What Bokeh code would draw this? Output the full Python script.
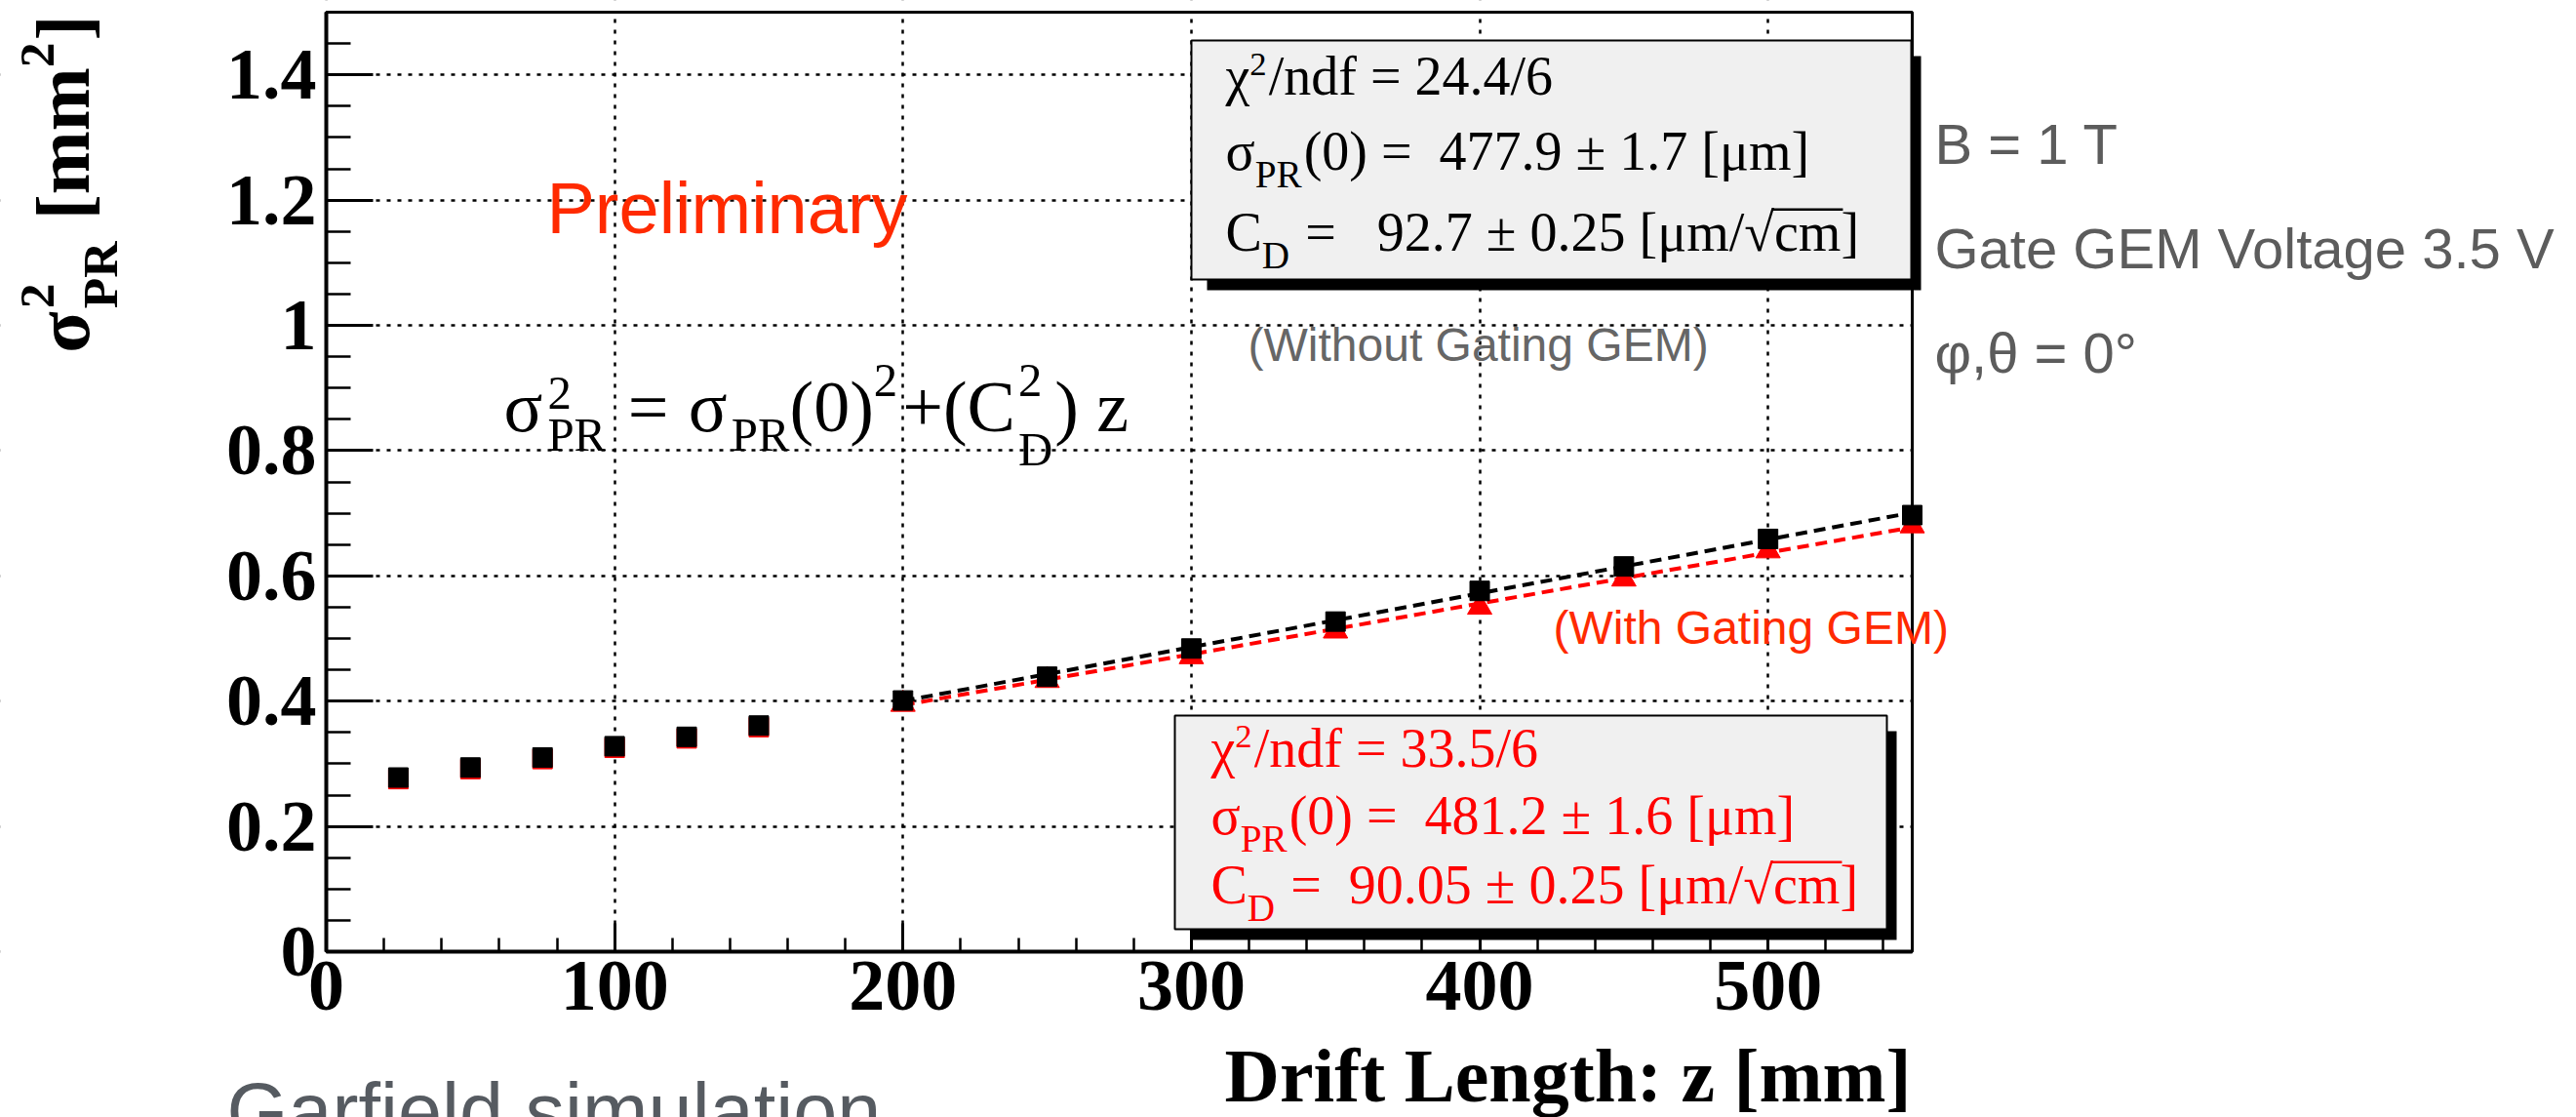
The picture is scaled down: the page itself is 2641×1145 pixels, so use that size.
import glob
import math

from bokeh.embed import file_html
from bokeh.models import (BoxAnnotation, ColumnDataSource, CustomJSTickFormatter,
                          FixedTicker, Label, Range1d)
from bokeh.plotting import figure
from bokeh.resources import INLINE

# ---------------------------------------------------------------- data
drift_mm = [25, 50, 75, 100, 125, 150, 200, 250, 300, 350, 400, 450, 500, 550]
sigma2_without_gate = [0.278, 0.294, 0.310, 0.328, 0.343, 0.361, 0.401,
                       0.439, 0.484, 0.527, 0.576, 0.615, 0.659, 0.697]
sigma2_with_gate = [0.2755, 0.2915, 0.3075, 0.3255, 0.3405, 0.3585, 0.395,
                    0.433, 0.471, 0.512, 0.550, 0.595, 0.640, 0.680]

x_ticks = [0, 100, 200, 300, 400, 500]
y_ticks = [0, 0.2, 0.4, 0.6, 0.8, 1.0, 1.2, 1.4]
x_minor_ticks = [20 * i for i in range(28)]
y_minor_ticks = [0.05 * i for i in range(31)]
x_limits = (0, 550)
y_limits = (0, 1.5)

# straight-line fits sigma^2 = sigma0^2 + C_D^2 z over this drift range
fit_range = (200, 550)
fit_without = {"chi2": 24.4, "ndf": 6, "sigma0": 477.9, "sigma0_err": 1.7, "cd": 92.7, "cd_err": 0.25}
fit_with = {"chi2": 33.5, "ndf": 6, "sigma0": 481.2, "sigma0_err": 1.6, "cd": 90.05, "cd_err": 0.25}

conditions = ["B = 1 T", "Gate GEM Voltage 3.5 V", "φ,θ = 0°"]

# ---------------------------------------------------------------- canvas geometry
W, H = 2641, 1145
FL, FR, FT, FB = 334, 1960, 12, 975   # axes box edges in canvas pixels

RED = "#ff0000"
ORANGE_RED = "#ff2a00"
GREY = "#5c5c5c"
SERIF = "Liberation Serif"
SANS = "Liberation Sans"
BASE_FIX = 0.36   # raise labels so their alphabetic baseline lands on the target

# the drawing area spans the whole canvas; the axes box sits inside it
_xs = (x_limits[1] - x_limits[0]) / (FR - FL)
_ys = (y_limits[1] - y_limits[0]) / (FB - FT)
x_view = (x_limits[0] - FL * _xs, x_limits[1] + (W - FR) * _xs)
y_view = (y_limits[0] - (H - FB) * _ys, y_limits[1] + FT * _ys)

p = figure(width=W, height=H, output_backend="svg", toolbar_location=None,
           x_range=Range1d(*x_view), y_range=Range1d(*y_view),
           min_border=0, min_border_left=0, min_border_right=0,
           min_border_top=0, min_border_bottom=0)
p.background_fill_color = "white"
p.border_fill_color = "white"
p.outline_line_color = None


def to_data(px, py):
    return x_view[0] + px * _xs, y_view[1] - py * _ys


# ---------------------------------------------------------------- text measuring
_fonts = {}


def _font(bold):
    if bold not in _fonts:
        name = "LiberationSerif-Bold.ttf" if bold else "LiberationSerif-Regular.ttf"
        hits = glob.glob(f"/usr/share/fonts/**/{name}", recursive=True)
        hits += glob.glob(f"/usr/local/share/fonts/**/{name}", recursive=True)
        font = None
        if hits:
            try:
                from PIL import ImageFont
                font = ImageFont.truetype(hits[0], 100)
            except Exception:
                font = None
        _fonts[bold] = font
    return _fonts[bold]


def text_width(text, size, bold=False):
    font = _font(bold)
    if font is None:
        return 0.5 * size * len(text)
    return font.getlength(text) * size / 100.0


def nb(s):
    return s.replace(" ", "\u00a0")


# a piece: (text, size scale, rise in em, stacked on the next piece, extra advance px)
def N(t, after=0.0):
    return (nb(t), 1.0, 0.0, False, after)


def SUP(t, rise=0.4, scale=0.66, stacked=False, after=0.0):
    return (nb(t), scale, rise, stacked, after)


def SUB(t, rise=-0.3, scale=0.66, stacked=False, after=0.0):
    return (nb(t), scale, rise, stacked, after)


def layout(pieces, size, bold=False):
    out, adv, stack_w = [], 0.0, 0.0
    for text, scale, rise, stacked, after in pieces:
        fs = size * scale
        w = text_width(text, fs, bold)
        out.append((text, fs, adv, rise * size, w))
        if stacked:
            stack_w = max(stack_w, w)
        else:
            adv += max(stack_w, w) + after
            stack_w = 0.0
    return out, adv


def rich(pieces, px, py, size, color, bold=False, angle=0.0, font=SERIF):
    items, total = layout(pieces, size, bold)
    ca, sa = math.cos(angle), math.sin(angle)
    for text, fs, adv, rise, _ in items:
        up = rise + BASE_FIX * fs
        gx = px + adv * ca - up * sa
        gy = py - adv * sa - up * ca
        x, y = to_data(gx, gy)
        p.add_layout(Label(x=x, y=y, text=text, angle=angle, text_font=font,
                           text_font_size=f"{fs:.1f}px",
                           text_font_style="bold" if bold else "normal",
                           text_color=color, text_align="left",
                           text_baseline="alphabetic"))
    return items, total


def plain(text, px, py, size, color, font=SANS, bold=False, align="left"):
    x, y = to_data(px, py - BASE_FIX * size)
    p.add_layout(Label(x=x, y=y, text=text, text_font=font,
                       text_font_size=f"{size}px",
                       text_font_style="bold" if bold else "normal",
                       text_color=color, text_align=align,
                       text_baseline="alphabetic"))


def box(px0, py0, px1, py1, fill, line=None, width=0, level="annotation", fill_alpha=1.0):
    left, top = to_data(px0, py0)
    right, bottom = to_data(px1, py1)
    p.add_layout(BoxAnnotation(left=left, right=right, top=top, bottom=bottom,
                               fill_color=fill, fill_alpha=fill_alpha,
                               line_color=line, line_alpha=1.0 if line else 0.0,
                               line_width=width, level=level))


# ---------------------------------------------------------------- axes & grid
for ax in (p.xaxis[0], p.yaxis[0]):
    ax.axis_line_width = 4
    ax.axis_line_color = "black"
    ax.major_tick_line_width = 3
    ax.minor_tick_line_width = 2.5
    ax.major_tick_out = 0
    ax.minor_tick_out = 0
    ax.major_label_text_font = SERIF
    ax.major_label_text_font_style = "bold"
    ax.major_label_text_font_size = "74px"
    ax.major_label_text_color = "black"

p.xaxis.fixed_location = y_limits[0]
p.yaxis.fixed_location = x_limits[0]
p.xaxis.bounds = x_limits
p.yaxis.bounds = y_limits
p.xaxis.ticker = FixedTicker(ticks=x_ticks, minor_ticks=x_minor_ticks)
p.yaxis.ticker = FixedTicker(ticks=y_ticks, minor_ticks=y_minor_ticks)
p.xaxis.major_tick_in = 29
p.xaxis.minor_tick_in = 14
p.yaxis.major_tick_in = 48
p.yaxis.minor_tick_in = 25
p.xaxis.major_label_standoff = 10
p.yaxis.major_label_standoff = 10
p.yaxis.formatter = CustomJSTickFormatter(code="return tick.toFixed(1).replace(/\\.0$/, '');")

p.grid.grid_line_color = "black"
p.grid.grid_line_width = 2.5
p.grid.grid_line_dash = "4 7"

# keep the dotted grid inside the axes box, then draw the box itself
box(0, 0, FL, H, "white", level="underlay")
box(FR, 0, W, H, "white", level="underlay")
box(0, 0, W, FT, "white", level="underlay")
box(0, FB, W, H, "white", level="underlay")
box(FL, FT, FR, FB, "white", "black", 3, level="underlay", fill_alpha=0.0)

# ---------------------------------------------------------------- fit lines


def fit_curve(fit):
    s0 = (fit["sigma0"] * 1e-3) ** 2           # mm^2
    slope = (fit["cd"] ** 2) * 1e-7             # (um^2/cm) -> mm^2/mm
    xs = list(fit_range)
    return xs, [s0 + slope * z for z in xs]


xs, ys = fit_curve(fit_with)
p.line(xs, ys, line_color=RED, line_width=4, line_dash="12 7")
xs, ys = fit_curve(fit_without)
p.line(xs, ys, line_color="black", line_width=4, line_dash="12 7")

# ---------------------------------------------------------------- measured points
low = [i for i, z in enumerate(drift_mm) if z < fit_range[0]]
high = [i for i, z in enumerate(drift_mm) if z >= fit_range[0]]

red_low = ColumnDataSource(dict(z=[drift_mm[i] for i in low], s=[sigma2_with_gate[i] for i in low]))
red_high = ColumnDataSource(dict(z=[drift_mm[i] for i in high], s=[sigma2_with_gate[i] for i in high]))
black_all = ColumnDataSource(dict(z=drift_mm, s=sigma2_without_gate))

p.scatter("z", "s", source=red_low, marker="square", size=20, color=RED)
p.scatter("z", "s", source=red_high, marker="triangle", size=25, color=RED)
p.scatter("z", "s", source=black_all, marker="square", size=20, color="black")

# ---------------------------------------------------------------- statistics boxes


def stat_box(fit, bx0, by0, bx1, by1, tx, baselines, color, cd_spaces):
    box(bx0 + 16, by0 + 16, bx1 + 10, by1 + 11, "black")
    box(bx0, by0, bx1, by1, "#f0f0f0", "black", 2)
    size = 56
    rich([N("χ"), SUP("2", rise=0.35, scale=0.62, after=2),
          N(f"/ndf = {fit['chi2']}/{fit['ndf']}")],
         tx, baselines[0], size, color)
    rich([N("σ"), SUB("PR", rise=-0.31, scale=0.7, after=2),
          N(f"(0) =  {fit['sigma0']} ± {fit['sigma0_err']} [μm]")],
         tx, baselines[1], size, color)
    items, _ = rich([N("C"), SUB("D", rise=-0.3, scale=0.7, after=2),
                     N(" =" + " " * cd_spaces + f"{fit['cd']} ± {fit['cd_err']} [μm/√"),
                     N("cm"), N("]")],
                    tx, baselines[2], size, color)
    cm = items[3]
    y_over = baselines[2] - 0.78 * size
    box(tx + cm[2] - 2, y_over - 1.2, tx + cm[2] + cm[4] + 2, y_over + 1.2, color)


stat_box(fit_without, 1221, 41, 1959, 286, 1256, (98, 175, 258), "black", 3)
stat_box(fit_with, 1204, 733, 1934, 952, 1241, (787, 856, 927), RED, 2)

# ---------------------------------------------------------------- annotations
plain("Preliminary", 560, 240, 74, ORANGE_RED)
rich([N("σ", after=5), SUP("2", rise=0.31, stacked=True), SUB("PR", rise=-0.27, after=4),
      N(" = ", after=2), N("σ", after=4), SUB("PR", rise=-0.27), N("(0)"),
      SUP("2", rise=0.49, after=5), N("+(C", after=3),
      SUP("2", rise=0.49, stacked=True), SUB("D", rise=-0.47, after=2), N(") z")],
     516, 443, 74, "black")
plain("(Without Gating GEM)", 1279, 370, 48, "#666666")
plain("(With Gating GEM)", 1592, 660, 48, ORANGE_RED)

for i, line in enumerate(conditions):
    plain(line, 1983, 168 + 107 * i, 58, GREY)

plain("Garfield simulation", 232, 1168, 81, "#565b61")

# axis titles
plain("Drift Length: z [mm]", 1959, 1130, 78, "black", font=SERIF, bold=True, align="right")
ytitle = [N("σ", after=3), SUP("2", rise=0.45, stacked=True), SUB("PR", rise=-0.36, after=3),
          N(" [mm"), SUP("2", rise=0.45, after=2), N("]")]
_, ylen = layout(ytitle, 78, bold=True)
rich(ytitle, 92, 15 + ylen, 78, "black", bold=True, angle=math.pi / 2)

open("out.html", "w").write(file_html(p, INLINE))
